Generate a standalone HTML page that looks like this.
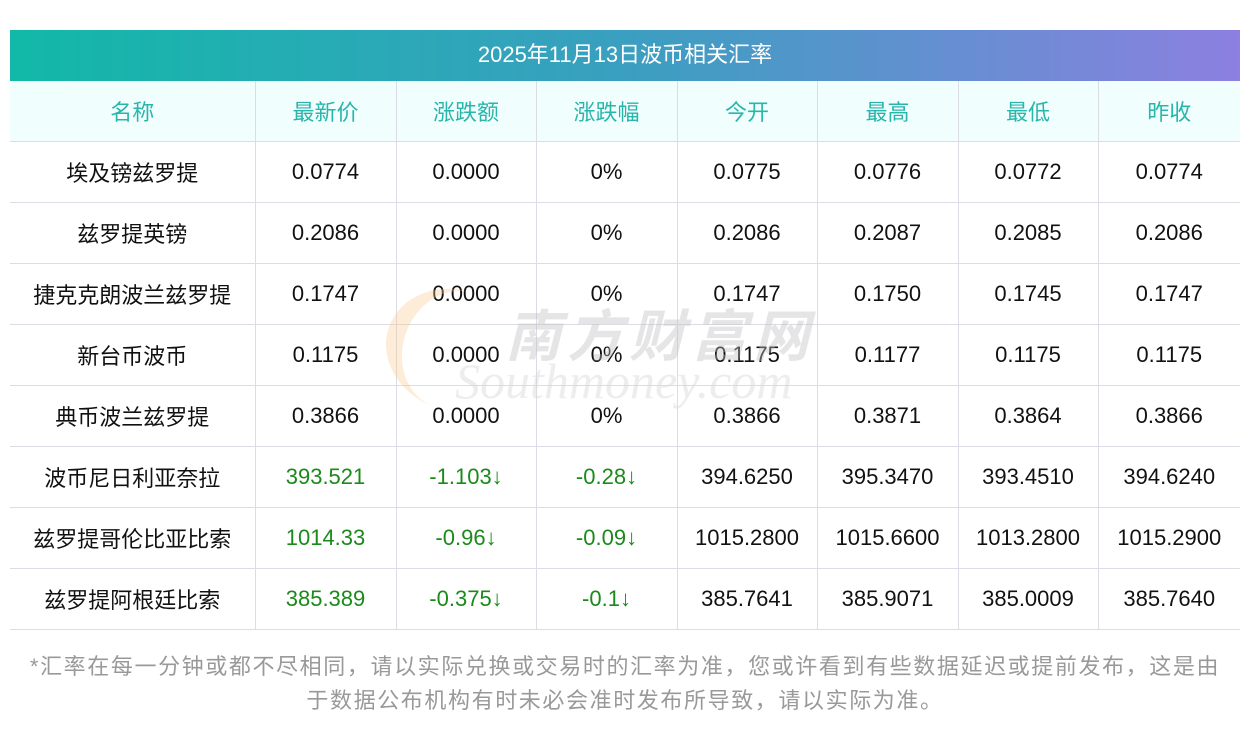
<!DOCTYPE html>
<html><head><meta charset="utf-8"><style>
body{margin:0;width:1250px;height:733px;background:#fff;font-family:"Liberation Sans","Noto Sans CJK SC",sans-serif;position:relative;overflow:hidden}
.title{position:absolute;left:10px;top:30px;width:1230px;height:51px;background:linear-gradient(90deg,#12b8a8,#3a9fc0 50%,#8c80e0);color:#fff;font-size:22px;line-height:49px;text-align:center}
table{position:absolute;left:10px;top:81px;width:1230px;border-collapse:collapse;table-layout:fixed}
td{height:60px;border-bottom:1px solid #dcdce6;border-left:1px solid #dcdce6;text-align:center;font-size:22px;color:#111;padding:0}
td:first-child{border-left:none}
tr.h td{background:#f0fffe;color:#2ab5ac;height:60px}
.g{color:#1a8a1a}
.note{position:absolute;left:0px;top:650px;width:1250px;text-align:center;color:#999;font-size:22px;letter-spacing:1.6px;line-height:34px}
.wm{position:absolute;left:505px;top:292px;font-size:56px;font-weight:bold;color:rgba(190,190,190,0.4);letter-spacing:6px;font-style:italic}
.wm2{position:absolute;left:455px;top:352px;font-size:50px;color:rgba(215,215,215,0.45);font-style:italic;font-family:"Liberation Serif",serif}
.logo{position:absolute;left:385px;top:290px;width:120px;height:120px;border-radius:50%;border-left:18px solid rgba(250,200,140,0.35);transform:rotate(20deg)}
</style></head><body>
<div class="title">2025年11月13日波币相关汇率</div>
<table>
<colgroup><col style="width:245px"><col style="width:141px"><col style="width:140px"><col style="width:141px"><col style="width:140px"><col style="width:141px"><col style="width:140px"><col style="width:142px"></colgroup>
<tr class="h"><td>名称</td><td>最新价</td><td>涨跌额</td><td>涨跌幅</td><td>今开</td><td>最高</td><td>最低</td><td>昨收</td></tr>
<tr><td>埃及镑兹罗提</td><td>0.0774</td><td>0.0000</td><td>0%</td><td>0.0775</td><td>0.0776</td><td>0.0772</td><td>0.0774</td></tr>
<tr><td>兹罗提英镑</td><td>0.2086</td><td>0.0000</td><td>0%</td><td>0.2086</td><td>0.2087</td><td>0.2085</td><td>0.2086</td></tr>
<tr><td>捷克克朗波兰兹罗提</td><td>0.1747</td><td>0.0000</td><td>0%</td><td>0.1747</td><td>0.1750</td><td>0.1745</td><td>0.1747</td></tr>
<tr><td>新台币波币</td><td>0.1175</td><td>0.0000</td><td>0%</td><td>0.1175</td><td>0.1177</td><td>0.1175</td><td>0.1175</td></tr>
<tr><td>典币波兰兹罗提</td><td>0.3866</td><td>0.0000</td><td>0%</td><td>0.3866</td><td>0.3871</td><td>0.3864</td><td>0.3866</td></tr>
<tr><td>波币尼日利亚奈拉</td><td class="g">393.521</td><td class="g">-1.103↓</td><td class="g">-0.28↓</td><td>394.6250</td><td>395.3470</td><td>393.4510</td><td>394.6240</td></tr>
<tr><td>兹罗提哥伦比亚比索</td><td class="g">1014.33</td><td class="g">-0.96↓</td><td class="g">-0.09↓</td><td>1015.2800</td><td>1015.6600</td><td>1013.2800</td><td>1015.2900</td></tr>
<tr><td>兹罗提阿根廷比索</td><td class="g">385.389</td><td class="g">-0.375↓</td><td class="g">-0.1↓</td><td>385.7641</td><td>385.9071</td><td>385.0009</td><td>385.7640</td></tr>
</table>
<div class="logo"></div>
<div class="wm">南方财富网</div>
<div class="wm2">Southmoney.com</div>
<div class="note">*汇率在每一分钟或都不尽相同，请以实际兑换或交易时的汇率为准，您或许看到有些数据延迟或提前发布，这是由<br>于数据公布机构有时未必会准时发布所导致，请以实际为准。</div>
</body></html>
